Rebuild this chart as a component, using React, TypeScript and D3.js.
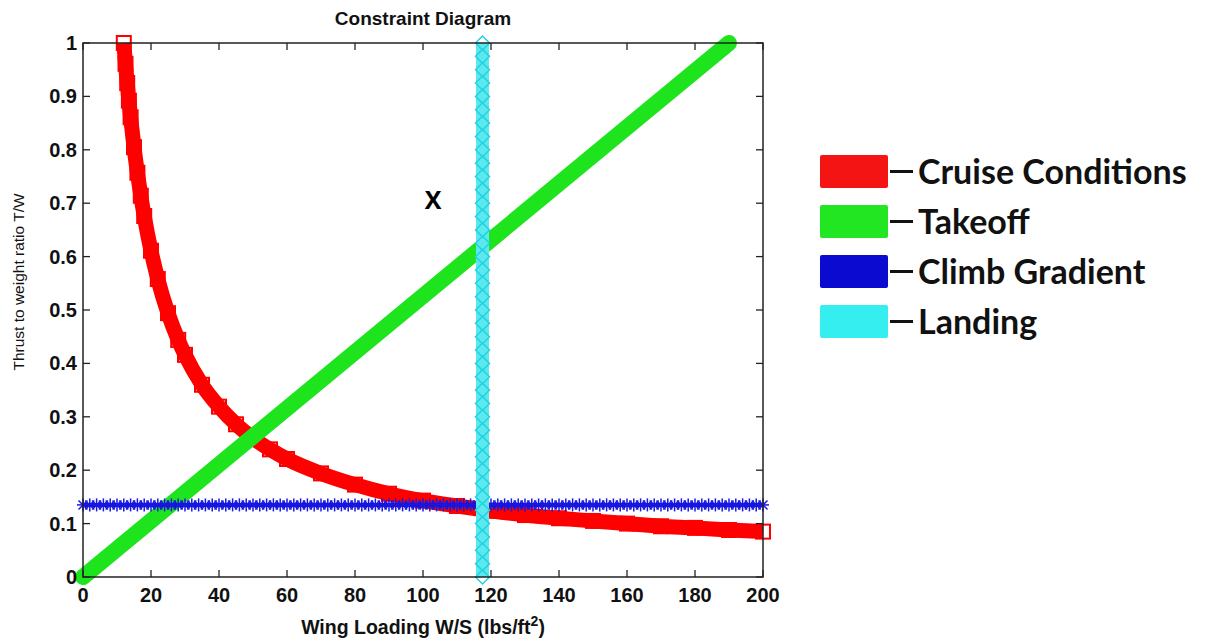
import React from "react";
import * as d3 from "d3";

// ---- data ----
const cruiseWS = [12, 12.5, 13, 13.5, 14, 15, 16, 17, 18, 20, 22, 25, 28, 30, 35, 40, 45, 50, 55, 60, 70, 80, 90, 100, 110, 120, 130, 140, 150, 160, 170, 180, 190, 200];
const cruiseTW = [1.0, 0.961, 0.925, 0.892, 0.861, 0.805, 0.757, 0.714, 0.676, 0.611, 0.558, 0.494, 0.444, 0.416, 0.360, 0.319, 0.286, 0.260, 0.239, 0.221, 0.194, 0.173, 0.156, 0.143, 0.133, 0.124, 0.116, 0.110, 0.105, 0.100, 0.095, 0.092, 0.088, 0.085];

const takeoffWS = [0, 190];
const takeoffTW = [0, 1.0];

const climbWS = [0, 2, 4, 6, 8, 10, 12, 14, 16, 18, 20, 22, 24, 26, 28, 30, 32, 34, 36, 38, 40, 42, 44, 46, 48, 50, 52, 54, 56, 58, 60, 62, 64, 66, 68, 70, 72, 74, 76, 78, 80, 82, 84, 86, 88, 90, 92, 94, 96, 98, 100, 102, 104, 106, 108, 110, 112, 114, 116, 118, 120, 122, 124, 126, 128, 130, 132, 134, 136, 138, 140, 142, 144, 146, 148, 150, 152, 154, 156, 158, 160, 162, 164, 166, 168, 170, 172, 174, 176, 178, 180, 182, 184, 186, 188, 190, 192, 194, 196, 198, 200];
const climbTWValue = 0.135;

const landingWSValue = 117.5;
const landingTW = [0, 0.025, 0.05, 0.075, 0.1, 0.125, 0.15, 0.175, 0.2, 0.225, 0.25, 0.275, 0.3, 0.325, 0.35, 0.375, 0.4, 0.425, 0.45, 0.475, 0.5, 0.525, 0.55, 0.575, 0.6, 0.625, 0.65, 0.675, 0.7, 0.725, 0.75, 0.775, 0.8, 0.825, 0.85, 0.875, 0.9, 0.925, 0.95, 0.975, 1.0];

const xTicks = [0, 20, 40, 60, 80, 100, 120, 140, 160, 180, 200];
const yTicks = [0, 0.1, 0.2, 0.3, 0.4, 0.5, 0.6, 0.7, 0.8, 0.9, 1];

const legendLabels = ["Cruise Conditions", "Takeoff", "Climb Gradient", "Landing"];
const legendColors = ["#f41414", "#22e622", "#0a0ad0", "#35eef0"];

const title = "Constraint Diagram";
const yLabel = "Thrust to weight ratio T/W";
const annotation = { ws: 103, tw: 0.706, text: "X" };

export default function App() {
  const W = 1211, H = 644;
  const x = d3.scaleLinear().domain([0, 200]).range([83, 763]);
  const y = d3.scaleLinear().domain([0, 1]).range([577, 43]);
  const axFont = "'Liberation Sans', Arial, sans-serif";

  const cruisePts = cruiseWS.map((w, i) => [x(w), y(cruiseTW[i])] as [number, number]);
  const cruisePath = d3.line().curve(d3.curveMonotoneX)(cruisePts) || "";
  const takeoffPath = d3.line()(takeoffWS.map((w, i) => [x(w), y(takeoffTW[i])] as [number, number])) || "";
  const climbPath = d3.line()(climbWS.map((w) => [x(w), y(climbTWValue)] as [number, number])) || "";
  const landingPath = d3.line()(landingTW.map((t) => [x(landingWSValue), y(t)] as [number, number])) || "";

  const x0 = x(0), x1 = x(200), y0 = y(0), y1 = y(1);
  const tl = 7;

  return (
    <svg width={W} height={H} style={{ position: "fixed", left: 0, top: 0, background: "#fff" }}>
      <rect x={0} y={0} width={W} height={H} fill="#fff" />
      {/* Cruise */}
      <path d={cruisePath} fill="none" stroke="#ff0000" strokeWidth={15} />
      {cruisePts.map((p, i) => (
        <rect key={"c" + i} x={p[0] - 7} y={p[1] - 7} width={14} height={14} fill="none" stroke="#ff0000" strokeWidth={2} />
      ))}
      {/* Takeoff */}
      <path d={takeoffPath} fill="none" stroke="#1ee41e" strokeWidth={16} strokeLinecap="round" />
      {/* Climb */}
      <path d={climbPath} fill="none" stroke="#1010e0" strokeWidth={4} />
      {climbWS.map((w, i) => {
        const cx = x(w), cy = y(climbTWValue);
        return (
          <g key={"b" + i} stroke="#1818e0" strokeWidth={1.5}>
            <line x1={cx} y1={cy - 6.5} x2={cx} y2={cy + 6.5} />
            <line x1={cx - 6} y1={cy} x2={cx + 6} y2={cy} />
            <line x1={cx - 4.5} y1={cy - 4.5} x2={cx + 4.5} y2={cy + 4.5} />
            <line x1={cx - 4.5} y1={cy + 4.5} x2={cx + 4.5} y2={cy - 4.5} />
          </g>
        );
      })}
      {/* Landing */}
      <path d={landingPath} fill="none" stroke="#5ce8ee" strokeWidth={13} />
      {landingTW.map((t, i) => {
        const cx = x(landingWSValue), cy = y(t);
        return (
          <path key={"l" + i} d={`M${cx},${cy - 7}L${cx + 7},${cy}L${cx},${cy + 7}L${cx - 7},${cy}Z`} fill="none" stroke="#20d4e0" strokeWidth={1.5} />
        );
      })}

      {/* Axes box */}
      <rect x={x0} y={y1} width={x1 - x0} height={y0 - y1} fill="none" stroke="#222" strokeWidth={1.5} />
      {xTicks.map((t) => (
        <g key={"xt" + t}>
          <line x1={x(t)} x2={x(t)} y1={y0} y2={y0 - tl} stroke="#222" strokeWidth={1.3} />
          <line x1={x(t)} x2={x(t)} y1={y1} y2={y1 + tl} stroke="#222" strokeWidth={1.3} />
          <text x={x(t)} y={y0 + 25} textAnchor="middle" fontFamily={axFont} fontWeight="bold" fontSize={20} fill="#111">{t}</text>
        </g>
      ))}
      {yTicks.map((t) => (
        <g key={"yt" + t}>
          <line x1={x0} x2={x0 + tl} y1={y(t)} y2={y(t)} stroke="#222" strokeWidth={1.3} />
          <line x1={x1} x2={x1 - tl} y1={y(t)} y2={y(t)} stroke="#222" strokeWidth={1.3} />
          <text x={x0 - 6} y={y(t) + 7} textAnchor="end" fontFamily={axFont} fontWeight="bold" fontSize={20} fill="#111">{t}</text>
        </g>
      ))}

      {/* Title & labels */}
      <text x={(x0 + x1) / 2} y={25} textAnchor="middle" fontFamily={axFont} fontWeight="bold" fontSize={19} fill="#111">{title}</text>
      <text x={(x0 + x1) / 2} y={634} textAnchor="middle" fontFamily={axFont} fontWeight="bold" fontSize={19.5} fill="#111">
        Wing Loading W/S (lbs/ft<tspan dy={-8} fontSize={14}>2</tspan><tspan dy={8}>)</tspan>
      </text>
      <text transform={`translate(24,282) rotate(-90)`} textAnchor="middle" fontFamily={axFont} fontSize={15.5} fill="#111">{yLabel}</text>

      <text x={x(annotation.ws)} y={y(annotation.tw) + 9} textAnchor="middle" fontFamily="'Open Sans', Arial, sans-serif" fontWeight="bold" fontSize={25} fill="#000">{annotation.text}</text>

      {/* Legend */}
      {legendLabels.map((lab, i) => {
        const cy = 171.5 + i * 50;
        return (
          <g key={"lg" + i}>
            <rect x={820} y={cy - 16.5} width={68} height={33} rx={2} fill={legendColors[i]} />
            <line x1={890} x2={913} y1={cy} y2={cy} stroke="#111" strokeWidth={3} />
            <text x={918} y={cy + 12} fontFamily="Lato, 'Open Sans', sans-serif" fontWeight="bold" fontSize={34} fill="#111">{lab}</text>
          </g>
        );
      })}
    </svg>
  );
}
